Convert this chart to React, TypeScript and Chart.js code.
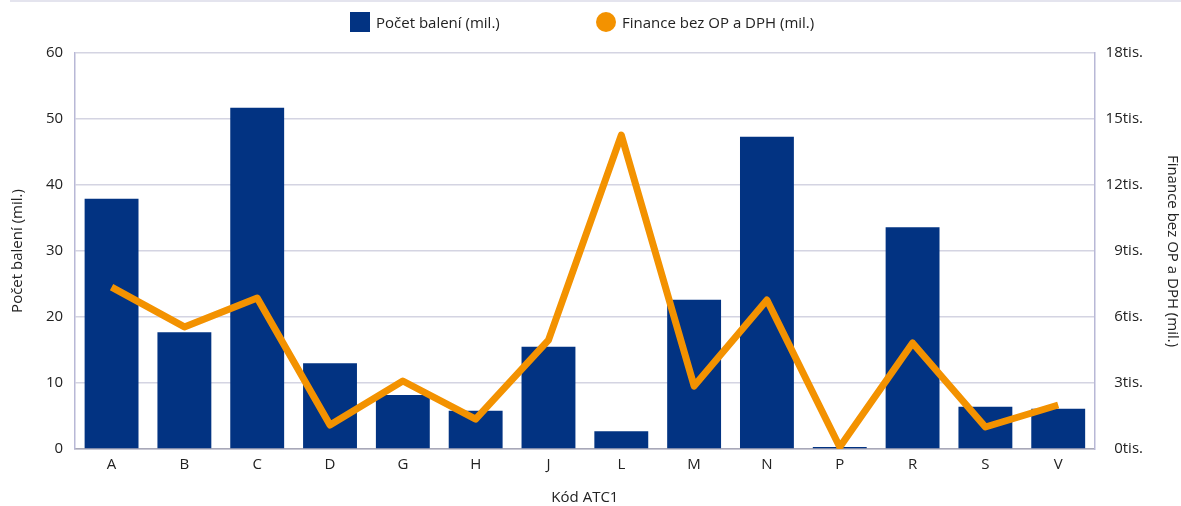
import React, { useEffect, useRef } from "react";
import { Chart, registerables } from "chart.js";

Chart.register(...registerables);

const categories = ["A", "B", "C", "D", "G", "H", "J", "L", "M", "N", "P", "R", "S", "V"];
const packages = [37.9, 17.7, 51.7, 13.0, 8.2, 5.8, 15.5, 2.7, 22.6, 47.3, 0.3, 33.6, 6.4, 6.1];
const finance = [7360, 5550, 6860, 1090, 3090, 1360, 4950, 14270, 2860, 6770, 90, 4820, 1000, 2000];
const leftTicks = [0, 10, 20, 30, 40, 50, 60];
const rightTicks = [0, 3000, 6000, 9000, 12000, 15000, 18000];
const rightTitle = "Finance bez OP a DPH (mil.)";

const BAR_COLOR = "#023382";
const LINE_COLOR = "#F39200";
const FONT = "'Open Sans', 'Noto Sans', sans-serif";
const TEXT = "#222222";
const FS = 15;

const rightTitlePlugin = {
  id: "rightTitle",
  afterDraw(chart: any) {
    const { ctx, chartArea } = chart;
    ctx.save();
    ctx.translate(1172, (chartArea.top + chartArea.bottom) / 2);
    ctx.rotate(Math.PI / 2);
    ctx.fillStyle = TEXT;
    ctx.font = `${FS}px ${FONT}`;
    ctx.textAlign = "center";
    ctx.textBaseline = "middle";
    ctx.fillText(rightTitle, 0, 0);
    ctx.restore();
  },
};

export default function App() {
  const ref = useRef<HTMLCanvasElement | null>(null);

  useEffect(() => {
    document.body.style.margin = "0";
    if (!ref.current) return;
    const chart = new Chart(ref.current, {
      type: "bar",
      data: {
        labels: categories,
        datasets: [
          {
            type: "line",
            label: rightTitle,
            data: finance,
            yAxisID: "y1",
            borderColor: LINE_COLOR,
            backgroundColor: LINE_COLOR,
            borderWidth: 7,
            pointRadius: 0,
            tension: 0,
            borderJoinStyle: "round",
            borderCapStyle: "butt",
            order: 0,
          } as any,
          {
            type: "bar",
            label: "Počet balení (mil.)",
            data: packages,
            yAxisID: "y",
            backgroundColor: BAR_COLOR,
            barPercentage: 0.74,
            categoryPercentage: 1,
            order: 1,
          },
        ],
      },
      options: {
        animation: false,
        responsive: false,
        maintainAspectRatio: false,
        layout: { padding: { top: 53, bottom: -1, left: 4, right: 38 } },
        plugins: {
          legend: { display: false },
          tooltip: { enabled: false },
        },
        scales: {
          x: {
            grid: { display: false, drawTicks: false },
            border: { display: true, color: "#a8a8b8", width: 1.5 },
            ticks: { color: TEXT, font: { family: FONT, size: FS }, padding: 7 },
            title: {
              display: true,
              text: "Kód ATC1",
              color: TEXT,
              font: { family: FONT, size: FS },
              padding: { top: 8, bottom: 0 },
            },
          },
          y: {
            position: "left",
            min: 0,
            max: 60,
            afterBuildTicks: (axis: any) => {
              axis.ticks = leftTicks.map((v) => ({ value: v }));
            },
            grid: { color: "#d4d4e2", lineWidth: 1.5, drawTicks: false },
            border: { display: true, color: "#b8b8d6", width: 1.5 },
            ticks: { color: TEXT, font: { family: FONT, size: FS }, padding: 12 },
            title: {
              display: true,
              text: "Počet balení (mil.)",
              color: TEXT,
              font: { family: FONT, size: FS },
              padding: { top: 5, bottom: 7 },
            },
          },
          y1: {
            position: "right",
            min: 0,
            max: 18000,
            afterBuildTicks: (axis: any) => {
              axis.ticks = rightTicks.map((v) => ({ value: v }));
            },
            grid: { display: false, drawTicks: false },
            border: { display: true, color: "#b8b8d6", width: 1.5 },
            ticks: {
              color: TEXT,
              font: { family: FONT, size: FS },
              padding: 5.5,
              crossAlign: "far",
              callback: (v: any) => `${Number(v) / 1000}tis.`,
            },
          },
        },
      },
      plugins: [rightTitlePlugin],
    });
    return () => chart.destroy();
  }, []);

  return (
    <div style={{ position: "relative", width: 1181, height: 506, background: "#fff", fontFamily: FONT }}>
      <div style={{ position: "absolute", left: 10, right: 0, top: 0, height: 2, background: "#e4e4ee" }} />
      <div style={{ position: "absolute", left: 350, top: 12, height: 20, display: "flex", alignItems: "center", fontSize: FS, color: TEXT, whiteSpace: "nowrap" }}>
        <span style={{ display: "inline-block", width: 20, height: 20, background: BAR_COLOR, marginRight: 6 }} />
        <span>Počet balení (mil.)</span>
      </div>
      <div style={{ position: "absolute", left: 596, top: 12, height: 20, display: "flex", alignItems: "center", fontSize: FS, color: TEXT, whiteSpace: "nowrap" }}>
        <span style={{ display: "inline-block", width: 20, height: 20, borderRadius: "50%", background: LINE_COLOR, marginRight: 6 }} />
        <span>{rightTitle}</span>
      </div>
      <canvas ref={ref} width={1181} height={506} style={{ display: "block" }} />
    </div>
  );
}
